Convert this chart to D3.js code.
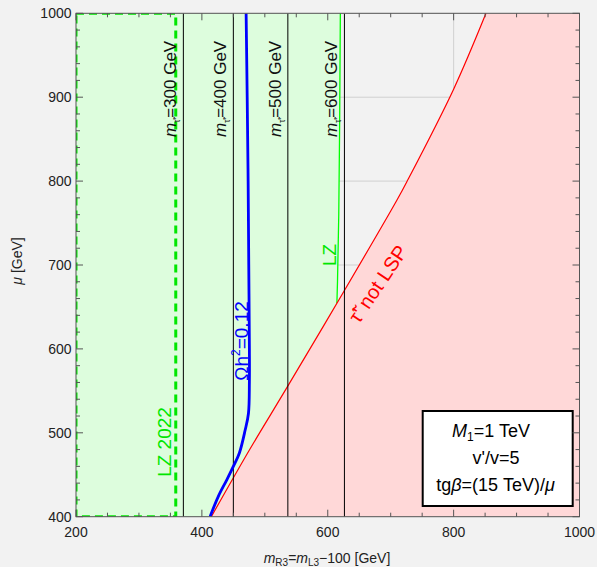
<!DOCTYPE html>
<html><head><meta charset="utf-8">
<script src="https://cdn.jsdelivr.net/npm/d3@7"></script>
<style>
body{margin:0;background:#f2f2f2;}
svg{display:block;font-family:"Liberation Sans",Arial,sans-serif;}
</style></head>
<body><div id="chart"></div>
<script>
// ---- data ----
const xTicks = [200, 400, 600, 800, 1000];
const yTicks = [400, 500, 600, 700, 800, 900, 1000];
const mTauValues = [300, 400, 500, 600];
const mTauPositions = [370.6, 450, 536.6, 626.5];
const omegaX = [470.3, 472, 473.5, 474.5, 475.5, 475.5, 474, 468.7, 459.6, 450, 439.6, 426, 413];
const omegaMu = [1000, 900, 800, 700, 600, 561, 523, 503, 476, 460, 444, 424, 400];
const redX = [415, 475.5, 536, 626, 710, 725.7, 800, 851.4];
const redMu = [400, 479.5, 555, 669, 777.5, 799.3, 909.6, 1000];
const lzX = [620, 619, 617.5, 615.5, 614.5, 614.5];
const lzMu = [1000, 880, 760, 680, 654, 400];
const lz2022X = 358.5;
const legendLines = ["M1=1 TeV", "v'/v=5", "tgβ=(15 TeV)/μ"];

const W = 597, H = 567;
const L = 76, R = 579.5, T = 13.3, B = 516.7;
const x = d3.scaleLinear().domain([200, 1000]).range([L, R]);
const y = d3.scaleLinear().domain([400, 1000]).range([B, T]);

const svg = d3.select("#chart").append("svg").attr("width", W).attr("height", H);
svg.append("rect").attr("width", W).attr("height", H).attr("fill", "#f2f2f2");
svg.append("clipPath").attr("id", "clip").append("rect")
  .attr("x", L).attr("y", T).attr("width", R - L).attr("height", B - T);
const g = svg.append("g").attr("clip-path", "url(#clip)");

// grid
g.selectAll(".gx").data(xTicks).join("line")
  .attr("x1", d => x(d)).attr("x2", d => x(d)).attr("y1", T).attr("y2", B)
  .attr("stroke", "#d0d0d0").attr("stroke-width", 1);
g.selectAll(".gy").data(yTicks).join("line")
  .attr("y1", d => y(d)).attr("y2", d => y(d)).attr("x1", L).attr("x2", R)
  .attr("stroke", "#d0d0d0").attr("stroke-width", 1);

// green region
const lzPts = lzX.map((v, i) => [v, lzMu[i]]);
const greenPoly = [[200, 1000], ...lzPts, [200, 400]];
g.append("path").attr("d", d3.line().x(d => x(d[0])).y(d => y(d[1]))(greenPoly) + "Z")
  .attr("fill", "#ddfddd");
g.append("path").attr("d", d3.line().x(d => x(d[0])).y(d => y(d[1])).curve(d3.curveMonotoneY)(lzPts.slice(0, 5)))
  .attr("fill", "none").attr("stroke", "#00ff00").attr("stroke-width", 1.3);

// red region
const redPts = redX.map((v, i) => [v, redMu[i]]);
const redLine = d3.line().x(d => x(d[0])).y(d => y(d[1])).curve(d3.curveCatmullRom);
g.append("path").attr("d", redLine(redPts) + `L${x(1000)},${y(1000)}L${x(1000)},${y(400)}Z`)
  .attr("fill", "#ffd8d8");
g.append("path").attr("d", redLine(redPts)).attr("fill", "none")
  .attr("stroke", "#ff0000").attr("stroke-width", 1.2);

// LZ 2022 dashed rectangle
g.append("rect").attr("x", x(200)).attr("y", y(1000))
  .attr("width", x(lz2022X) - x(200)).attr("height", y(400) - y(1000))
  .attr("fill", "none").attr("stroke", "#00e600").attr("stroke-width", 3)
  .attr("stroke-dasharray", "8,5");

// m_tau lines
g.selectAll(".mt").data(mTauPositions).join("line")
  .attr("x1", d => x(d)).attr("x2", d => x(d)).attr("y1", T).attr("y2", B)
  .attr("stroke", "#000").attr("stroke-width", 1);

// omega curve
const omPts = omegaX.map((v, i) => [v, omegaMu[i]]);
g.append("path").attr("d", d3.line().x(d => x(d[0])).y(d => y(d[1])).curve(d3.curveCatmullRom)(omPts))
  .attr("fill", "none").attr("stroke", "#0000ff").attr("stroke-width", 2.8);

// m_tau labels
mTauPositions.forEach((p, i) => {
  const t = svg.append("text").attr("transform", `translate(${x(p) - 7},137) rotate(-90)`)
    .attr("text-anchor", "start").attr("font-size", 17).attr("fill", "#111");
  t.append("tspan").attr("font-style", "italic").text("m");
  t.append("tspan").attr("font-size", 8.5).attr("dy", 4).text("τ̃'");
  t.append("tspan").attr("dy", -4).text(`=${mTauValues[i]} GeV`);
});

// other labels
svg.append("text").attr("transform", `translate(171,442) rotate(-90)`)
  .attr("text-anchor", "middle").attr("font-size", 19).attr("fill", "#00e600").text("LZ 2022");
svg.append("text").attr("transform", `translate(336,255) rotate(-90)`)
  .attr("text-anchor", "middle").attr("font-size", 19).attr("fill", "#00e600").text("LZ");
const om = svg.append("text").attr("transform", `translate(248,341) rotate(-90)`)
  .attr("text-anchor", "middle").attr("font-size", 19).attr("fill", "#0000ff");
om.append("tspan").text("Ωh");
om.append("tspan").attr("font-size", 12).attr("dy", -8).text("2");
om.append("tspan").attr("dy", 8).text("=0.12");
svg.append("text").attr("transform", `translate(378,284) rotate(-56)`)
  .attr("text-anchor", "middle").attr("dominant-baseline", "central")
  .attr("font-size", 20).attr("fill", "#ff0000").text("τ̃' not LSP");

// legend box
svg.append("rect").attr("x", 422.7).attr("y", 411).attr("width", 150).attr("height", 95)
  .attr("fill", "#fff").attr("stroke", "#000").attr("stroke-width", 2);
const lg = svg.append("g").attr("font-size", 18).attr("text-anchor", "middle").attr("fill", "#000");
const l1 = lg.append("text").attr("x", 491).attr("y", 437);
l1.append("tspan").attr("font-style", "italic").text("M");
l1.append("tspan").attr("font-size", 12).attr("dy", 4).text("1");
l1.append("tspan").attr("dy", -4).text("=1 TeV");
lg.append("text").attr("x", 496).attr("y", 463.5).text(legendLines[1]);
const l3 = lg.append("text").attr("x", 495.5).attr("y", 491);
l3.append("tspan").text("tg");
l3.append("tspan").attr("font-style", "italic").text("β");
l3.append("tspan").text("=(15 TeV)/");
l3.append("tspan").attr("font-style", "italic").text("μ");

// frame and ticks
const frame = svg.append("g");
frame.append("rect").attr("x", L).attr("y", T).attr("width", R - L).attr("height", B - T)
  .attr("fill", "none").attr("stroke", "#555").attr("stroke-width", 1);
const xMinor = d3.range(200, 1001, 50), yMinor = d3.range(400, 1001, 20);
xMinor.forEach(v => {
  const len = xTicks.includes(v) ? 7 : 4;
  frame.append("line").attr("x1", x(v)).attr("x2", x(v)).attr("y1", B).attr("y2", B - len).attr("stroke", "#555");
  frame.append("line").attr("x1", x(v)).attr("x2", x(v)).attr("y1", T).attr("y2", T + len).attr("stroke", "#555");
});
yMinor.forEach(v => {
  const len = yTicks.includes(v) ? 7 : 4;
  frame.append("line").attr("y1", y(v)).attr("y2", y(v)).attr("x1", L).attr("x2", L + len).attr("stroke", "#555");
  frame.append("line").attr("y1", y(v)).attr("y2", y(v)).attr("x1", R).attr("x2", R - len).attr("stroke", "#555");
});
svg.append("g").selectAll("text").data(xTicks).join("text")
  .attr("x", d => x(d)).attr("y", 537).attr("text-anchor", "middle")
  .attr("font-size", 14).attr("fill", "#222").text(d => d);
svg.append("g").selectAll("text").data(yTicks).join("text")
  .attr("x", 71.5).attr("y", d => y(d) + 5).attr("text-anchor", "end")
  .attr("font-size", 14).attr("fill", "#222").text(d => d);

// axis titles
const yt = svg.append("text").attr("transform", "translate(22,261) rotate(-90)")
  .attr("text-anchor", "middle").attr("font-size", 14).attr("fill", "#222");
yt.append("tspan").attr("font-style", "italic").text("μ");
yt.append("tspan").text(" [GeV]");
const xt = svg.append("text").attr("x", 327).attr("y", 563).attr("text-anchor", "middle")
  .attr("font-size", 14).attr("fill", "#222");
xt.append("tspan").attr("font-style", "italic").text("m");
xt.append("tspan").attr("font-size", 10).attr("dy", 3).text("R3");
xt.append("tspan").attr("dy", -3).text("=");
xt.append("tspan").attr("font-style", "italic").text("m");
xt.append("tspan").attr("font-size", 10).attr("dy", 3).text("L3");
xt.append("tspan").attr("dy", -3).text("−100 [GeV]");
</script></body></html>
